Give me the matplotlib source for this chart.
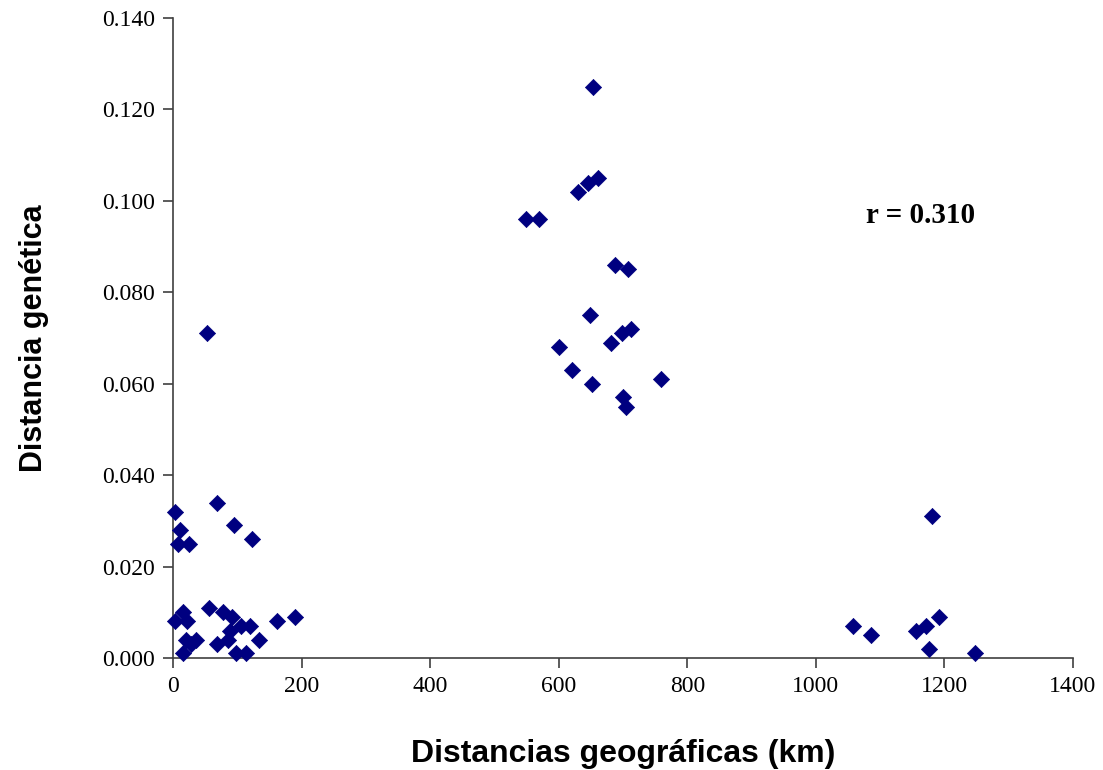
import matplotlib
matplotlib.use("Agg")
import matplotlib.pyplot as plt
from matplotlib import font_manager

# Data: geographic distance (km) vs genetic distance
dist_km = [
    # middle cluster
    653, 661, 645, 630, 549, 569, 687, 707, 648, 713, 698, 682, 601, 620, 759, 651, 700, 705,
    # right cluster
    1180, 1058, 1086, 1156, 1172, 1192, 1176, 1247,
    # left cluster
    68, 3, 95, 11, 123, 8, 25, 53,
    56, 16, 77, 92, 190, 161, 3, 21, 105, 119, 89, 20, 36, 28, 134, 69, 86, 16, 98, 114,
]
gen_dist = [
    0.125, 0.105, 0.104, 0.102, 0.096, 0.096, 0.086, 0.085, 0.075, 0.072, 0.071, 0.069, 0.068, 0.063, 0.061, 0.060, 0.057, 0.055,
    0.031, 0.007, 0.005, 0.006, 0.007, 0.009, 0.002, 0.001,
    0.034, 0.032, 0.029, 0.028, 0.026, 0.025, 0.025, 0.071,
    0.011, 0.010, 0.010, 0.009, 0.009, 0.008, 0.008, 0.008, 0.007, 0.007, 0.006, 0.004, 0.004, 0.003, 0.004, 0.003, 0.004, 0.001, 0.001, 0.001,
]
x_ticks = [0, 200, 400, 600, 800, 1000, 1200, 1400]
y_ticks = [0.000, 0.020, 0.040, 0.060, 0.080, 0.100, 0.120, 0.140]
x_label = "Distancias geográficas (km)"
y_label = "Distancia genética"
annotation = "r = 0.310"

available = {f.name for f in font_manager.fontManager.ttflist}
label_font = ["Liberation Sans Narrow", "Liberation Sans", "DejaVu Sans"]
label_font = [f for f in label_font if f in available] or ["DejaVu Sans"]
serif_font = ["Liberation Serif", "DejaVu Serif"]

fig = plt.figure(figsize=(11.03, 7.70), dpi=100)
ax = fig.add_axes([173 / 1103, 1 - 658 / 770, 900 / 1103, 640 / 770])

ax.scatter(dist_km, gen_dist, marker="D", s=68, color="#000080",
           edgecolors="#000080", linewidths=0.5, zorder=3, clip_on=False)

ax.set_xlim(0, 1400)
ax.set_ylim(0, 0.140)
ax.set_xticks(x_ticks)
ax.set_yticks(y_ticks)
ax.set_xticklabels([str(v) for v in x_ticks], family=serif_font, fontsize=17)
ax.set_yticklabels([f"{v:.3f}" for v in y_ticks], family=serif_font, fontsize=17)

for s in ["top", "right"]:
    ax.spines[s].set_visible(False)
for s in ["left", "bottom"]:
    ax.spines[s].set_color("#404040")
    ax.spines[s].set_linewidth(1.2)
ax.tick_params(axis="both", direction="out", length=7, width=1.2, color="#404040", pad=6)

ax.set_xlabel(x_label, family=label_font, fontsize=23, fontweight="bold", labelpad=30)
ax.set_ylabel(y_label, family=label_font, fontsize=22, fontweight="bold", labelpad=38)

ax.text(1163, 0.0969, annotation, family=serif_font, fontsize=21, fontweight="bold",
        ha="center", va="center")

fig.savefig("out.png", dpi=100)
